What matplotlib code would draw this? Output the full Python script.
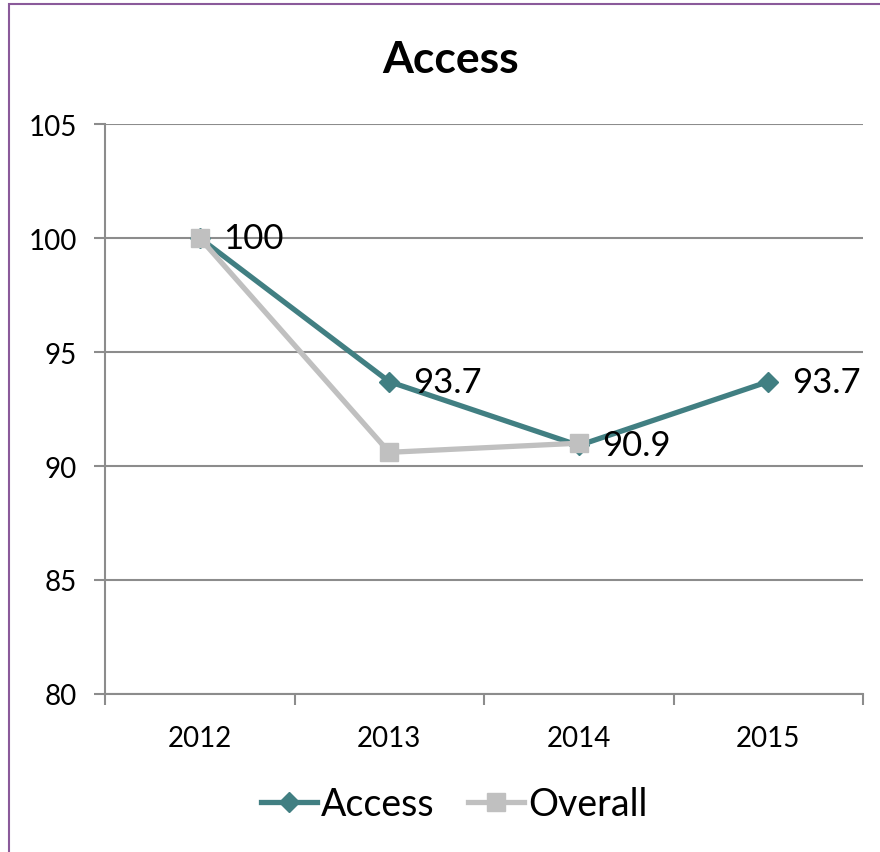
import matplotlib
matplotlib.use("Agg")
import matplotlib.pyplot as plt
from matplotlib.patches import Rectangle
import numpy as np

years = ["2012", "2013", "2014", "2015"]
access = [100, 93.7, 90.9, 93.7]
overall = [100, 90.6, 91.0, np.nan]
access_labels = ["100", "93.7", "90.9", "93.7"]

teal = "#417F82"
grey = "#C0C0C0"
gridc = "#8C8C8C"

plt.rcParams["font.family"] = ["Lato", "DejaVu Sans"]

fig = plt.figure(figsize=(8.8, 8.53), dpi=100)
ax = fig.add_axes([105 / 880, 1 - 695 / 853, 758 / 880, 570 / 853])

x = np.arange(len(years))
ax.plot(x, access, color=teal, lw=3.8, marker="D", ms=10, mec=teal, mfc=teal,
        label="Access", zorder=3)
ax.plot(x, overall, color=grey, lw=3.8, marker="s", ms=13, mec=grey, mfc=grey,
        label="Overall", zorder=4)

for xi, v, s in zip(x, access, access_labels):
    ax.annotate(s, (xi, v), xytext=(17, 0), textcoords="offset points",
                ha="left", va="center", fontsize=25, zorder=5)

ax.set_xlim(-0.5, len(years) - 0.5)
ax.set_ylim(80, 105)
ax.set_yticks(np.arange(80, 106, 5))
ax.set_xticks(x)
ax.set_xticklabels(years)
ax.set_xticks(np.arange(-0.5, len(years), 1), minor=True)
ax.tick_params(axis="x", which="major", length=0, pad=22, labelsize=20)
ax.tick_params(axis="x", which="minor", length=8, width=1.5, color=gridc, direction="out")
ax.tick_params(axis="y", length=8, width=1.5, color=gridc, direction="out", pad=12, labelsize=20)
ax.yaxis.grid(True, color=gridc, lw=1.5)
ax.set_axisbelow(True)
for side in ["top", "right"]:
    ax.spines[side].set_visible(False)
for side in ["left", "bottom"]:
    ax.spines[side].set_color(gridc)
    ax.spines[side].set_linewidth(1.5)

fig.text(451 / 880, 1 - 60 / 853, "Access", ha="center", va="center",
         fontsize=32, fontweight="bold")

fig.legend(loc="center", bbox_to_anchor=(454 / 880, 1 - 805 / 853), ncol=2,
           frameon=False, fontsize=27, handlelength=1.5, handletextpad=0.1,
           columnspacing=0.9)

# outer chart border (runs off the right and bottom)
fig.patches.append(Rectangle((9 / 880, -0.1), 1.2, 1 - 5 / 853 + 0.1,
                             transform=fig.transFigure, fill=False,
                             ec="#8A5A9A", lw=1.5))

fig.savefig("out.png", dpi=100)
